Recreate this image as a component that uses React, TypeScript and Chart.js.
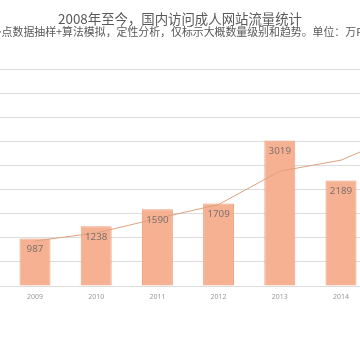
import { useEffect, useRef } from 'react';
import { Chart, registerables } from 'chart.js';

Chart.register(...registerables);

const titleText = '2008年至今，国内访问成人网站流量统计';
const subtitleText = '多点数据抽样+算法模拟，定性分析，仅标示大概数量级别和趋势。单位：万PV';
const years = ['2008', '2009', '2010', '2011', '2012', '2013', '2014', '2015'];
const visits = [880, 987, 1238, 1590, 1709, 3019, 2189, 4100];
const movingAverage = [null, 935, 1100, 1400, 1690, 2380, 2610, 3150];
const yMax = 4500;
const yStep = 500;

const barLabels = {
  id: 'barLabels',
  afterDatasetsDraw(chart: any) {
    const meta = chart.getDatasetMeta(0);
    const ctx = chart.ctx;
    ctx.save();
    ctx.font = '9.8px "Noto Sans", sans-serif';
    ctx.fillStyle = '#7d716d';
    ctx.textAlign = 'center';
    ctx.textBaseline = 'middle';
    meta.data.forEach((el: any, i: number) => {
      ctx.fillText(String(visits[i]), el.x, el.y + 10.5);
    });
    ctx.restore();
  },
};

export default function App() {
  const ref = useRef<HTMLCanvasElement>(null);
  useEffect(() => {
    if (!ref.current) return;
    const chart = new Chart(ref.current, {
      type: 'bar',
      data: {
        labels: years,
        datasets: [
          {
            type: 'bar',
            label: '流量',
            data: visits,
            backgroundColor: '#F6B193',
            borderColor: '#EF9E7A',
            borderWidth: 1,
            barPercentage: 0.506,
            categoryPercentage: 1,
            order: 1,
          },
          {
            type: 'line',
            label: '2 per. Mov. Avg.',
            data: movingAverage as any,
            borderColor: '#DDA27F',
            borderWidth: 1,
            pointRadius: 0,
            tension: 0,
            fill: false,
            order: 0,
          },
        ],
      },
      options: {
        responsive: false,
        animation: false,
        layout: { padding: { left: 27.2, right: 27.2, top: 0, bottom: 0 } },
        plugins: {
          legend: { display: false },
          tooltip: { enabled: false },
          title: {
            display: true,
            text: titleText,
            color: '#595959',
            font: { family: '"Noto Sans CJK SC", sans-serif', size: 13.4, weight: 'normal', lineHeight: 1 },
            padding: { top: 12.3, bottom: 0.35 },
          },
          subtitle: {
            display: true,
            text: subtitleText,
            color: '#595959',
            font: { family: '"Noto Sans CJK SC", sans-serif', size: 10.9, weight: 'normal', lineHeight: 1 },
            padding: { top: 0, bottom: 32.05 },
          },
        },
        scales: {
          x: {
            grid: { display: false, drawTicks: false },
            border: { display: false },
            ticks: {
              color: '#999999',
              font: { family: '"Noto Sans", sans-serif', size: 7 },
              padding: 7,
              maxRotation: 0,
            },
            afterFit(scale: any) {
              scale.height = 73;
            },
          },
          y: {
            min: 0,
            max: yMax,
            ticks: { display: false, stepSize: yStep },
            grid: { color: '#DCDCDC', drawTicks: false },
            border: { display: false },
            afterFit(scale: any) {
              scale.width = 16;
            },
          },
        },
      },
      plugins: [barLabels],
    });
    return () => chart.destroy();
  }, []);

  return (
    <div style={{ position: 'fixed', left: 0, top: 0, width: 360, height: 359, overflow: 'hidden', background: '#fff' }}>
      <canvas
        ref={ref}
        width={560}
        height={359}
        style={{ position: 'absolute', left: -100, top: 0, width: 560, height: 359 }}
      />
    </div>
  );
}
